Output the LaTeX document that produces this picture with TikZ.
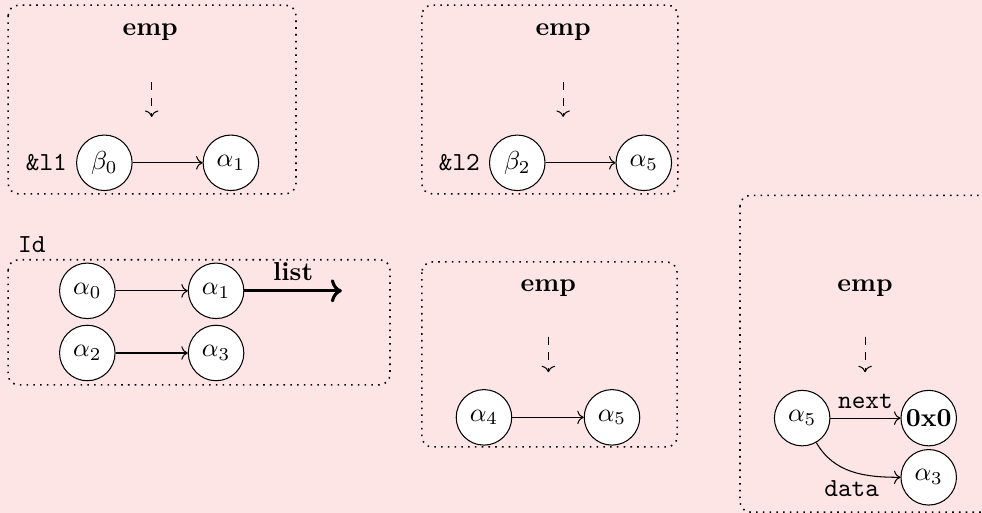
\documentclass[tikz,border=0pt]{standalone}
\definecolor{bgpink}{RGB}{253, 228, 229}
\usepackage{amsmath, amssymb}
\usepackage{xcolor}
\usepackage{tikz}
\usetikzlibrary{
  arrows.meta,
  positioning
}

\begin{document}
\begin{tikzpicture}[
  heapbox/.style={
    draw, dotted, semithick, rounded corners=4pt
  },
  cell/.style={
    circle, draw, fill=white, minimum size=0.75cm, inner sep=1pt
  },
  link/.style={->},
  emparrow/.style={->, dashed}
]
\useasboundingbox (0, 0) rectangle (13.27, -6.93);
\fill[bgpink] (0, 0) rectangle (13.27, -6.93);
\clip (0, 0) rectangle (13.27, -6.93);

% top left: &l1
\draw[heapbox] (0.11, -0.07) rectangle (4.0, -2.62);
\node (emp1) at (2.03, -0.43) {\textbf{emp}};
\coordinate (e1a) at (2.05, -1.11);
\coordinate (e1b) at (2.05, -1.58);
\draw[emparrow] (e1a) -- (e1b);
\node[cell, label={left:\texttt{\&l1}}] (b0) at (1.41, -2.2) {$\beta_0$};
\node[cell] (a1top) at (3.12, -2.2) {$\alpha_1$};
\draw[link] (b0) -- (a1top);

% top middle: &l2
\draw[heapbox] (5.70, -0.07) rectangle (9.16, -2.62);
\node (emp2) at (7.61, -0.43) {\textbf{emp}};
\coordinate (e2a) at (7.61, -1.11);
\coordinate (e2b) at (7.61, -1.58);
\draw[emparrow] (e2a) -- (e2b);
\node[cell, label={left:\texttt{\&l2}}] (b2) at (6.99, -2.2) {$\beta_2$};
\node[cell] (a5top) at (8.70, -2.2) {$\alpha_5$};
\draw[link] (b2) -- (a5top);

% Id
\node (idlbl) at (0.43, -3.31) {\texttt{Id}};
\draw[heapbox] (0.11, -3.51) rectangle (5.27, -5.20);
\node[cell] (a0) at (1.18, -3.93) {$\alpha_0$};
\node[cell] (a1) at (2.92, -3.93) {$\alpha_1$};
\node[cell] (a2) at (1.18, -4.77) {$\alpha_2$};
\node[cell] (a3) at (2.92, -4.77) {$\alpha_3$};
\coordinate (listend) at (4.62, -3.93);
\draw[link] (a0) -- (a1);
\draw[link] (a2) -- (a3);
\draw[->, very thick] (a1) -- node[above] {\textbf{list}} (listend);

% bottom middle
\draw[heapbox] (5.70, -3.54) rectangle (9.15, -6.04);
\node (emp4) at (7.41, -3.89) {\textbf{emp}};
\coordinate (e4a) at (7.41, -4.55);
\coordinate (e4b) at (7.41, -5.03);
\draw[emparrow] (e4a) -- (e4b);
\node[cell] (a4) at (6.54, -5.64) {$\alpha_4$};
\node[cell] (a5mid) at (8.27, -5.64) {$\alpha_5$};
\draw[link] (a4) -- (a5mid);

% right: next / data
\draw[heapbox] (10.0, -2.64) rectangle (13.8, -6.92);
\node (emp5) at (11.69, -3.89) {\textbf{emp}};
\coordinate (e5a) at (11.69, -4.55);
\coordinate (e5b) at (11.69, -5.03);
\draw[emparrow] (e5a) -- (e5b);
\node[cell] (a5) at (10.84, -5.65) {$\alpha_5$};
\node[cell] (null) at (12.55, -5.65) {\textbf{0x0}};
\node[cell] (a3r) at (12.55, -6.45) {$\alpha_3$};
\draw[link] (a5) -- node[above] {\texttt{next}} (null);
\draw[link] (a5) to[out=-60, in=180] node[below] {\texttt{data}} (a3r);
\end{tikzpicture}
\end{document}
